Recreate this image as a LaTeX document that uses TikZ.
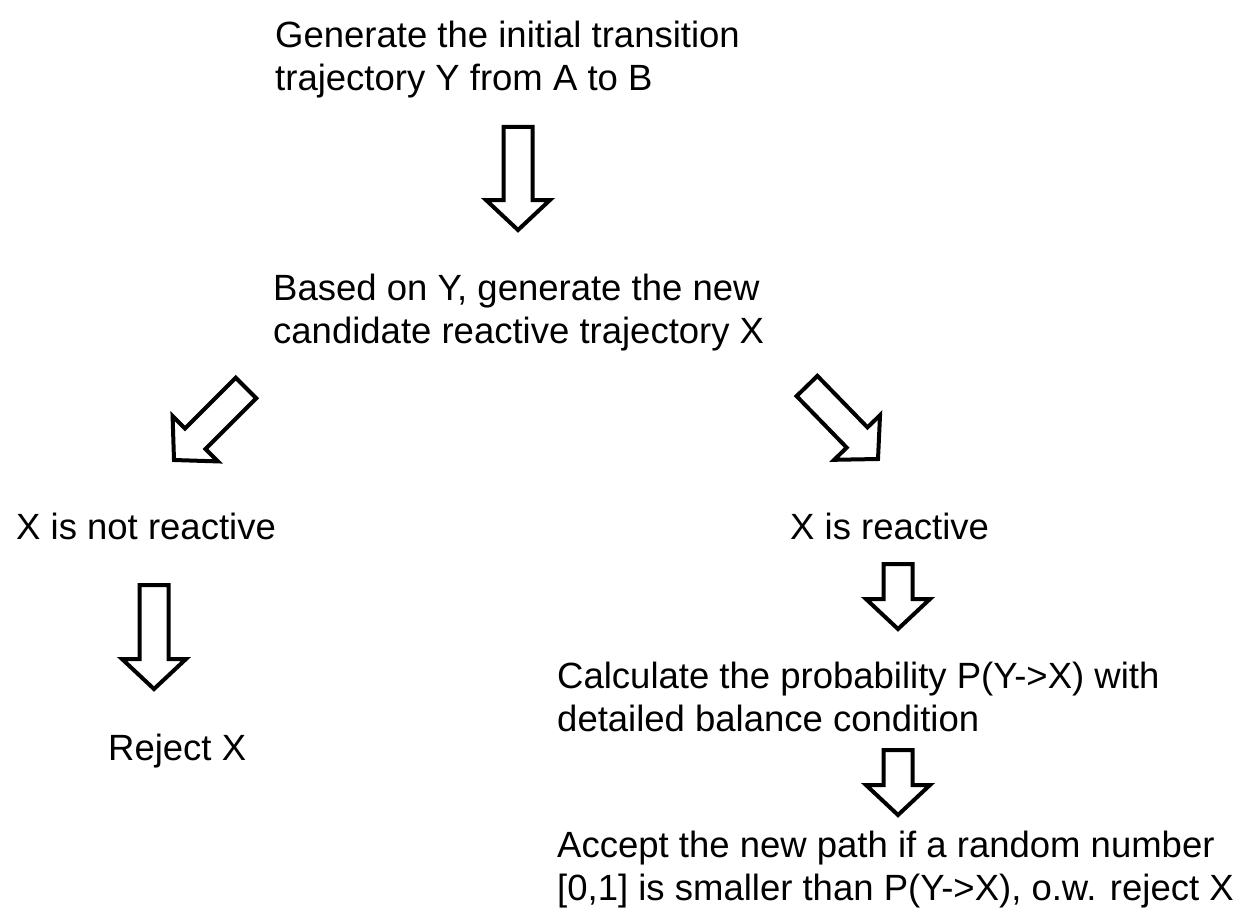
\documentclass[tikz,border=0pt]{standalone}
\usepackage{fontspec}
\setmainfont{Liberation Sans}
\usetikzlibrary{calc}
\tikzset{
  fat/.style={draw=black, line width=4pt, line join=miter, fill=white},
  txt/.style={font=\fontsize{36.5}{43}\selectfont, inner sep=0pt, align=left, anchor=north west}
}
% #1 tail coordinate, #2 tip coordinate
\newcommand{\blockarrow}[2]{%
  \coordinate (#1-h) at ($(#2)!30pt!(#1)$);
  \draw[fat]
    ($(#1)!14.5pt!90:(#2)$) -- ($(#1-h)!14.5pt!90:(#2)$) -- ($(#1-h)!32pt!90:(#2)$)
    -- (#2) -- ($(#1-h)!32pt!-90:(#2)$) -- ($(#1-h)!14.5pt!-90:(#2)$)
    -- ($(#1)!14.5pt!-90:(#2)$) -- cycle;
}
\begin{document}
\begin{tikzpicture}[x=1pt,y=-1pt]
\useasboundingbox (0,0) rectangle (1257,920);
\node[txt] (gen) at (275,21) {Generate the initial transition\\trajectory Y from A to B};
\node[txt] (based) at (273,274) {Based on Y, generate the new\\candidate reactive trajectory X};
\node[txt] (notre) at (16,513) {X is not reactive};
\node[txt] (re) at (790,513) {X is reactive};
\node[txt] (rej) at (108,734) {Reject X};
\node[txt] (calc) at (557,662) {Calculate the probability P(Y->X) with\\detailed balance condition};
\node[txt] (acc) at (557,831) {Accept the new path if a random number\\{[0,1]} is smaller than P(Y->X), o.w. reject X};

\coordinate (a1s) at (518,127); \coordinate (a1t) at (518,230);
\blockarrow{a1s}{a1t}
\coordinate (a2s) at (246,388); \coordinate (a2t) at (174,460);
\blockarrow{a2s}{a2t}
\coordinate (a3s) at (807,386); \coordinate (a3t) at (878,459);
\blockarrow{a3s}{a3t}
\coordinate (a4s) at (154,585); \coordinate (a4t) at (154,689);
\blockarrow{a4s}{a4t}
\coordinate (a5s) at (898,564); \coordinate (a5t) at (898,629);
\blockarrow{a5s}{a5t}
\coordinate (a6s) at (898,750); \coordinate (a6t) at (898,815);
\blockarrow{a6s}{a6t}
\end{tikzpicture}
\end{document}
